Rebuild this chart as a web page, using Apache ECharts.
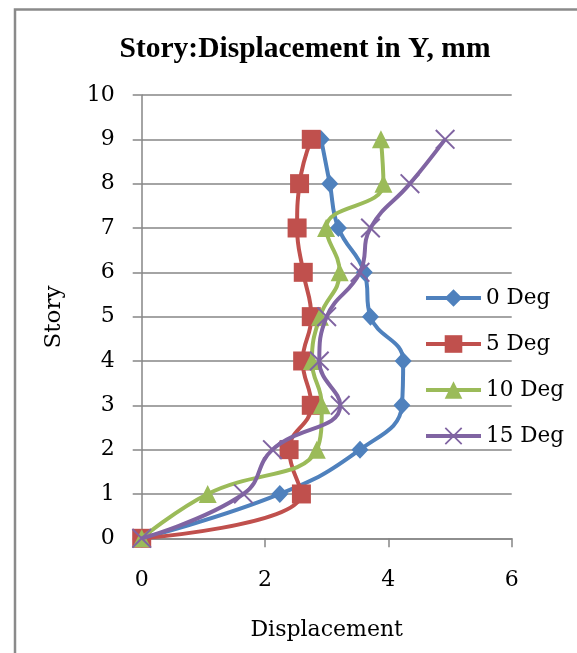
<!DOCTYPE html>
<html><head><meta charset="utf-8">
<script src="https://cdn.jsdelivr.net/npm/echarts@6/dist/echarts.min.js"></script>
<style>html,body{margin:0;padding:0;background:#fff}#c{width:577px;height:653px}</style>
</head><body><div id="c"></div>
<script>
var stories = [0,1,2,3,4,5,6,7,8,9];
var deg0  = [0,2.24,3.54,4.22,4.24,3.71,3.61,3.19,3.05,2.91];
var deg5  = [0,2.59,2.39,2.75,2.61,2.75,2.62,2.52,2.56,2.75];
var deg10 = [0,1.07,2.84,2.92,2.76,2.89,3.21,2.99,3.92,3.88];
var deg15 = [0,1.65,2.12,3.22,2.88,3.00,3.54,3.71,4.35,4.92];
var names = ['0 Deg','5 Deg','10 Deg','15 Deg'];
var colors = ['#4F81BD','#C0504D','#9BBB59','#8064A2'];
var xTicks = [0,2,4,6];
var yTicks = [0,1,2,3,4,5,6,7,8,9,10];

var xPath = 'path://M0,1.4L1.4,0L10,8.6L18.6,0L20,1.4L11.4,10L20,18.6L18.6,20L10,11.4L1.4,20L0,18.6L8.6,10Z';
var symbols = ['diamond','rect','triangle',xPath];
var sizes = [[17,18],19,[18,18],20];
var F = 'DejaVu Serif';

function pts(arr){ return arr.map(function(v,i){ return [v, stories[i]]; }); }
var all = [deg0,deg5,deg10,deg15];
var series = all.map(function(arr,i){
  return {
    name: names[i], type:'line', data: pts(arr), smooth: 0.45,
    symbol: symbols[i], symbolSize: sizes[i], showSymbol:true,
    lineStyle:{color:colors[i], width:4},
    itemStyle:{color:colors[i]},
    z: 2+i
  };
});

var chart = echarts.init(document.getElementById('c'), null, {renderer:'canvas'});
chart.setOption({
  animation:false,
  color: colors,
  title:{text:'Story:Displacement in Y, mm', left:300, top:29, textAlign:'center',
    textStyle:{fontFamily:'Liberation Serif', fontWeight:'bold', fontSize:29.5, color:'#000'}},
  grid:{left:141.7, right:65.3, top:95, bottom:114.7},
  xAxis:{type:'value', min:0, max:6, interval:2,
    axisLine:{show:true, lineStyle:{color:'#868686', width:1.5}},
    axisTick:{show:true, inside:false, length:9, lineStyle:{color:'#868686', width:1.5}},
    axisLabel:{color:'#000', fontFamily:F, fontSize:22, margin:31,
      formatter:function(v){ return xTicks.indexOf(v)>=0 ? String(v) : ''; }},
    splitLine:{show:false}},
  yAxis:{type:'value', min:0, max:10, interval:1,
    axisLine:{show:true, lineStyle:{color:'#868686', width:1.5}},
    axisTick:{show:true, length:9, lineStyle:{color:'#868686', width:1.5}},
    axisLabel:{color:'#000', fontFamily:F, fontSize:22, margin:27,
      formatter:function(v){ return yTicks.indexOf(v)>=0 ? String(v) : ''; }},
    splitLine:{show:true, lineStyle:{color:'#868686', width:1.5}}},
  legend:{orient:'vertical', left:419, top:282, itemWidth:55, itemHeight:22, itemGap:24,
    lineStyle:{width:4},
    data:names, textStyle:{fontFamily:F, fontSize:21.5, color:'#000'}},
  graphic:[
    {type:'rect', shape:{x:15, y:9.5, width:600, height:700}, style:{fill:'none', stroke:'#8a8a8a', lineWidth:2.5}, silent:true},
    {type:'text', x:326.7, y:630, style:{text:'Displacement', textAlign:'center', textVerticalAlign:'middle', font:'22px "DejaVu Serif"', fill:'#000'}},
    {type:'text', rotation:Math.PI/2, x:54, y:317, style:{text:'Story', textAlign:'center', textVerticalAlign:'middle', font:'23px "DejaVu Serif"', fill:'#000'}}
  ],
  series: series
});
</script></body></html>
